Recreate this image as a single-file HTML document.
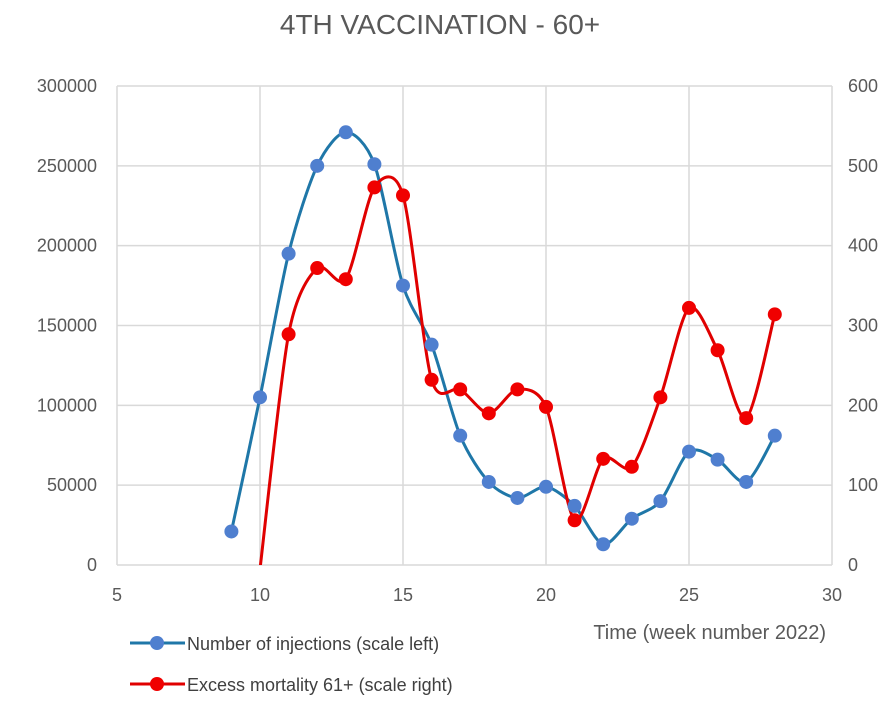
<!DOCTYPE html>
<html><head><meta charset="utf-8"><style>
body{margin:0;background:#fff;}
svg{display:block;font-family:"Liberation Sans",sans-serif;}
</style></head><body>
<svg id="chart" width="890" height="702">
<text x="440" y="34" text-anchor="middle" font-size="28" fill="#595959">4TH VACCINATION - 60+</text>
<defs><clipPath id="pc"><rect x="117" y="86" width="716" height="479"/></clipPath></defs>
<g id="grid"></g><g id="series" clip-path="url(#pc)"></g><g id="dots"></g><g id="labels"></g>
<g>
<g>
<line x1="130" y1="643" x2="185" y2="643" stroke="#1f77a8" stroke-width="3"/><circle cx="157" cy="643" r="7" fill="#4f7fcf"/>
<text x="187" y="650" font-size="18" fill="#404040">Number of injections (scale left)</text></g>
<g>
<line x1="130" y1="684" x2="185" y2="684" stroke="#e00000" stroke-width="3"/><circle cx="157" cy="684" r="7" fill="#f00000"/>
<text x="187" y="691" font-size="18" fill="#404040">Excess mortality 61+ (scale right)</text></g>
</g>
<text x="826" y="639" text-anchor="end" font-size="20" fill="#595959">Time (week number 2022)</text>
</svg>
<script>
const weeks=[9,10,11,12,13,14,15,16,17,18,19,20,21,22,23,24,25,26,27,28];
const injections=[21000,105000,195000,250000,271000,251000,175000,138000,81000,52000,42000,49000,37000,13000,29000,40000,71000,66000,52000,81000];
const mortWeeks=[10,11,12,13,14,15,16,17,18,19,20,21,22,23,24,25,26,27,28];
const mortality=[-5,289,372,358,473,463,232,220,190,220,198,56,133,123,210,322,269,184,314];
const xTicks=[5,10,15,20,25,30];
const yLeftTicks=[0,50000,100000,150000,200000,250000,300000];
const yRightTicks=[0,100,200,300,400,500,600];
const X=v=>117+(v-5)/25*715, YL=v=>565-v/300000*479, YR=v=>565-v/600*479;
const NS="http://www.w3.org/2000/svg";
function mk(t,a,p){const e=document.createElementNS(NS,t);for(const k in a)e.setAttribute(k,a[k]);p.appendChild(e);return e;}
const g=document.getElementById('grid'),lb=document.getElementById('labels');
xTicks.forEach(t=>{const l=mk('line',{x1:X(t),x2:X(t),y1:86,y2:565,stroke:'#d9d9d9','stroke-width':1.5},g);


const tx=mk('text',{x:X(t),y:601,'text-anchor':'middle','font-size':18,fill:'#595959'},lb);tx.textContent=t;

});
yLeftTicks.forEach(t=>{const l=mk('line',{x1:117,x2:832,y1:YL(t),y2:YL(t),stroke:'#d9d9d9','stroke-width':1.5},g);


const tx=mk('text',{x:97,y:YL(t)+6,'text-anchor':'end','font-size':18,fill:'#595959'},lb);tx.textContent=t;

});
yRightTicks.forEach(t=>{const tx=mk('text',{x:848,y:YR(t)+6,'font-size':18,fill:'#595959'},lb);tx.textContent=t;

});
function spline(pts){let d=`M${pts[0][0]},${pts[0][1]}`;const k=0.14;
for(let i=0;i<pts.length-1;i++){const p0=pts[Math.max(0,i-1)],p1=pts[i],p2=pts[i+1],p3=pts[Math.min(pts.length-1,i+2)];
d+=` C${p1[0]+(p2[0]-p0[0])*k},${p1[1]+(p2[1]-p0[1])*k} ${p2[0]-(p3[0]-p1[0])*k},${p2[1]-(p3[1]-p1[1])*k} ${p2[0]},${p2[1]}`;}return d;}
const s=document.getElementById('series'),dg=document.getElementById('dots');
const bp=weeks.map((w,i)=>[X(w),YL(injections[i])]);
const rp=mortWeeks.map((w,i)=>[X(w),YR(mortality[i])]);
const bl=mk('path',{d:spline(bp),fill:'none',stroke:'#1f77a8','stroke-width':3},s);


const rl=mk('path',{d:spline(rp),fill:'none',stroke:'#e00000','stroke-width':3},s);


bp.forEach(p=>{const c=mk('circle',{cx:p[0],cy:p[1],r:7,fill:'#4f7fcf'},dg);

});
rp.forEach((p,i)=>{if(mortality[i]<0)return;const c=mk('circle',{cx:p[0],cy:p[1],r:7,fill:'#f00000'},dg);

});
</script>
</body></html>
